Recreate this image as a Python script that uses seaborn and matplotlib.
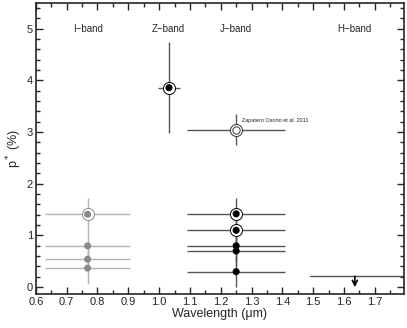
import numpy as np
import matplotlib
matplotlib.use('Agg')
import matplotlib.pyplot as plt
import seaborn as sns
import pandas as pd
from matplotlib.ticker import MultipleLocator

# I-band
i_wave = [0.768, 0.768, 0.768, 0.768]
i_pol = [1.41, 0.80, 0.54, 0.37]
i_err = [0.31, 0.31, 0.31, 0.31]
i_circled = [True, False, False, False]
i_xerr = [0.137, 0.137]

# Z-band
z_wave = [1.032]
z_pol = [3.86]
z_err = [0.88]
z_xerr = 0.036

# J-band
j_wave = [1.25, 1.25, 1.25, 1.25, 1.25]
j_pol = [1.42, 1.10, 0.80, 0.70, 0.30]
j_err = [0.30, 0.30, 0.30, 0.30, 0.30]
j_circled = [True, True, False, False, False]
j_xerr = 0.16

# Zapatero Osorio et al. 2011
zo_wave = 1.25
zo_pol = 3.05
zo_err = 0.30

# H-band upper limit
h_wave = 1.635
h_lim = 0.21
h_range = (1.49, 1.80)

band_names = ['I\u2212band', 'Z\u2212band', 'J\u2212band', 'H\u2212band']
band_pos = [0.77, 1.03, 1.25, 1.635]

sns.set_style('ticks')
plt.rcParams['font.family'] = ['Liberation Sans', 'DejaVu Sans']
plt.rcParams['xtick.direction'] = 'in'
plt.rcParams['ytick.direction'] = 'in'

fig = plt.figure(figsize=(4.07, 3.28), dpi=100)
ax = fig.add_axes([0.088, 0.104, 0.905, 0.887])

grey = '#8a8a8a'
light = '#b4b4b4'
dark = '#555555'

# error bars
ax.errorbar(i_wave, i_pol, yerr=i_err, xerr=i_xerr[0], fmt='none', ecolor=light, elinewidth=1)
ax.errorbar(z_wave, z_pol, yerr=z_err, xerr=z_xerr, fmt='none', ecolor=dark, elinewidth=1)
ax.errorbar(j_wave, j_pol, yerr=j_err, xerr=j_xerr, fmt='none', ecolor=dark, elinewidth=1)
ax.errorbar([zo_wave], [zo_pol], yerr=zo_err, xerr=j_xerr, fmt='none', ecolor=dark, elinewidth=1)

df_i = pd.DataFrame({'wave': i_wave, 'pol': i_pol, 'circ': i_circled})
df_j = pd.DataFrame({'wave': j_wave, 'pol': j_pol, 'circ': j_circled})

ring = 75
dot = 26
sns.scatterplot(data=df_i[df_i.circ], x='wave', y='pol', s=ring, facecolor='white',
                edgecolor=grey, linewidth=0.7, ax=ax, zorder=3)
sns.scatterplot(data=df_i, x='wave', y='pol', color=grey, s=dot, edgecolor='none', ax=ax, zorder=4)
sns.scatterplot(data=df_j[df_j.circ], x='wave', y='pol', s=ring, facecolor='white',
                edgecolor='black', linewidth=0.7, ax=ax, zorder=3)
sns.scatterplot(data=df_j, x='wave', y='pol', color='black', s=dot, edgecolor='none', ax=ax, zorder=4)
sns.scatterplot(x=z_wave, y=z_pol, s=ring, facecolor='white', edgecolor='black', linewidth=0.7,
                ax=ax, zorder=3)
sns.scatterplot(x=z_wave, y=z_pol, color='black', s=dot, edgecolor='none', ax=ax, zorder=4)

# Zapatero Osorio: double open ring
ax.scatter([zo_wave], [zo_pol], s=ring, facecolor='white', edgecolor='#333333', linewidth=0.7, zorder=3)
ax.scatter([zo_wave], [zo_pol], s=28, facecolor='white', edgecolor='#333333', linewidth=0.7, zorder=4)
ax.text(zo_wave + 0.02, zo_pol + 0.18, 'Zapatero Osorio et al. 2011', fontsize=4, va='center')

# H-band upper limit
ax.plot(list(h_range), [h_lim, h_lim], color=dark, lw=1)
ax.annotate('', xy=(h_wave, 0.0), xytext=(h_wave, h_lim),
            arrowprops=dict(arrowstyle='->', color='black', lw=1.2, mutation_scale=9,
                            shrinkA=0, shrinkB=0))

for name, pos in zip(band_names, band_pos):
    ax.text(pos, 5.0, name, ha='center', va='center', fontsize=7)

ax.set_xlim(0.6, 1.795)
ax.set_ylim(-0.13, 5.5)
ax.xaxis.set_major_locator(MultipleLocator(0.1))
ax.xaxis.set_minor_locator(MultipleLocator(0.05))
ax.yaxis.set_major_locator(MultipleLocator(1))
ax.yaxis.set_minor_locator(MultipleLocator(0.2))
ax.set_xticks(np.arange(0.6, 1.75, 0.1))
ax.set_xticklabels(['%.1f' % v for v in np.arange(0.6, 1.75, 0.1)])
ax.tick_params(which='both', top=True, right=True, labelsize=8, pad=2)
ax.tick_params(which='major', length=5, width=1)
ax.tick_params(which='minor', length=3, width=1)
for sp in ax.spines.values():
    sp.set_linewidth(1.2)

ax.set_xlabel('Wavelength (\u03bcm)', fontsize=9, labelpad=1)
ax.set_ylabel('p$^*$ (%)', fontsize=9, labelpad=2)

fig.savefig('out.png', dpi=100)
